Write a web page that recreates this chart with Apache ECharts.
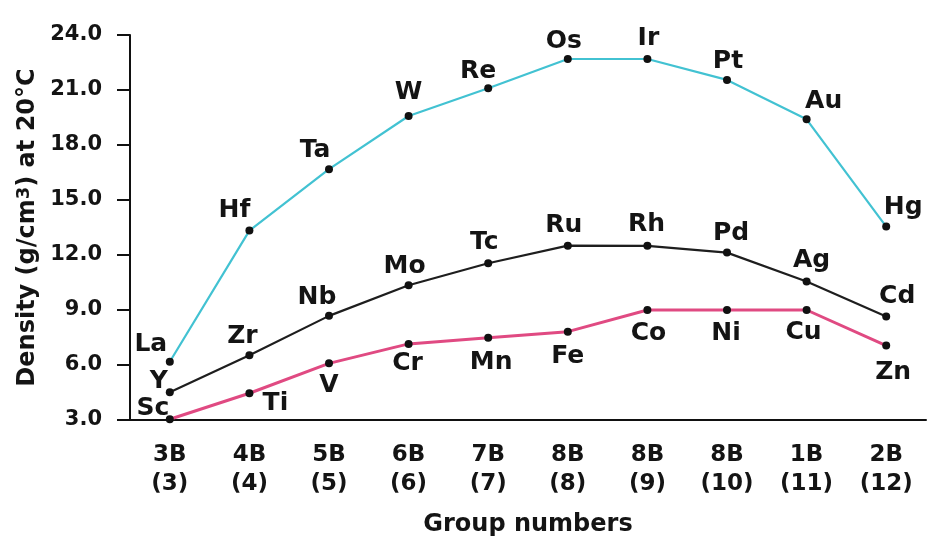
<!DOCTYPE html>
<html>
<head>
<meta charset="utf-8">
<title>Density of transition metals</title>
<script src="https://cdn.jsdelivr.net/npm/echarts@6/dist/echarts.min.js"></script>
<style>
  html, body { margin: 0; padding: 0; background: #ffffff; }
  #chart { width: 928px; height: 542px; }
</style>
</head>
<body>
<div id="chart"></div>
<script>
// Group labels along the x axis
const groupLabels = ['3B\n(3)', '4B\n(4)', '5B\n(5)', '6B\n(6)', '7B\n(7)',
                     '8B\n(8)', '8B\n(9)', '8B\n(10)', '1B\n(11)', '2B\n(12)'];

// Period 6 (5d) metals
const period6 = ['La', 'Hf', 'Ta', 'W', 'Re', 'Os', 'Ir', 'Pt', 'Au', 'Hg'];
const period6Density = [6.18, 13.33, 16.68, 19.58, 21.10, 22.69, 22.69, 21.55, 19.40, 13.55];

// Period 5 (4d) metals
const period5 = ['Y', 'Zr', 'Nb', 'Mo', 'Tc', 'Ru', 'Rh', 'Pd', 'Ag', 'Cd'];
const period5Density = [4.51, 6.53, 8.68, 10.35, 11.55, 12.51, 12.50, 12.13, 10.55, 8.64];

// Period 4 (3d) metals
const period4 = ['Sc', 'Ti', 'V', 'Cr', 'Mn', 'Fe', 'Co', 'Ni', 'Cu', 'Zn'];
const period4Density = [3.04, 4.46, 6.09, 7.15, 7.49, 7.82, 9.00, 9.00, 9.00, 7.06];

// Where each element symbol sits relative to its point (px)
const labelNudge = {
  La: [-19, -17], Hf: [-15, -20], Ta: [-14, -19], W: [0, -24], Re: [-10, -17],
  Os: [-4, -18], Ir: [1, -21], Pt: [1, -18], Au: [17, -18], Hg: [17, -19],
  Y: [-11, -11], Zr: [-7, -19], Nb: [-12, -18], Mo: [-4, -19], Tc: [-4, -21],
  Ru: [-4, -20], Rh: [-1, -21], Pd: [4, -19], Ag: [5, -21], Cd: [11, -20],
  Sc: [-17, -11], Ti: [26, 10], V: [0, 22], Cr: [-1, 20], Mn: [3, 25],
  Fe: [0, 25], Co: [1, 23], Ni: [-1, 23], Cu: [-3, 22], Zn: [7, 27]
};

const FONT = '"DejaVu Sans", "Liberation Sans", sans-serif';
const INK = '#141414';

function buildSeries(name, symbols, values, color, width) {
  return {
    name: name,
    type: 'line',
    clip: false,
    symbol: 'circle',
    symbolSize: 8,
    itemStyle: { color: '#111111' },
    lineStyle: { color: color, width: width },
    data: values.map(function (v, i) {
      return {
        value: v,
        label: {
          show: true,
          formatter: symbols[i],
          position: 'inside',
          align: 'center',
          verticalAlign: 'middle',
          offset: labelNudge[symbols[i]],
          color: INK,
          fontFamily: FONT,
          fontWeight: 'bold',
          fontSize: 25
        }
      };
    })
  };
}

const chart = echarts.init(document.getElementById('chart'), null, { renderer: 'canvas' });

chart.setOption({
  animation: false,
  backgroundColor: '#ffffff',
  grid: { left: 130, right: 2, top: 35, bottom: 122 },
  xAxis: {
    type: 'category',
    data: groupLabels,
    boundaryGap: true,
    name: 'Group numbers',
    nameLocation: 'middle',
    nameGap: 93,
    nameTextStyle: { color: INK, fontFamily: FONT, fontWeight: 'bold', fontSize: 24 },
    axisLine: { lineStyle: { color: '#111', width: 2 } },
    axisTick: { alignWithLabel: true, length: 13, lineStyle: { color: '#111', width: 2 } },
    axisLabel: {
      interval: 0,
      margin: 21,
      color: INK,
      fontFamily: FONT,
      fontWeight: 'bold',
      fontSize: 23,
      lineHeight: 29
    },
    splitLine: { show: false }
  },
  yAxis: {
    type: 'value',
    min: 3,
    max: 24,
    interval: 3,
    name: 'Density (g/cm{sup|3}) at 20°C',
    nameLocation: 'middle',
    nameGap: 89,
    nameRotate: 90,
    nameTextStyle: {
      color: INK, fontFamily: FONT, fontWeight: 'bold', fontSize: 24,
      rich: {
        sup: { fontFamily: FONT, fontWeight: 'bold', fontSize: 18, verticalAlign: 'top', color: INK }
      }
    },
    axisLine: { show: true, lineStyle: { color: '#111', width: 2 } },
    axisTick: { show: true, length: 13, lineStyle: { color: '#111', width: 2 } },
    axisLabel: {
      margin: 28,
      color: INK,
      fontFamily: FONT,
      fontWeight: 'bold',
      fontSize: 21,
      formatter: function (v) { return v.toFixed(1); }
    },
    splitLine: { show: false }
  },
  series: [
    buildSeries('Period 4', period4, period4Density, '#e04a82', 3),
    buildSeries('Period 5', period5, period5Density, '#1e1e1e', 2.2),
    buildSeries('Period 6', period6, period6Density, '#42c2d2', 2.2)
  ]
});
</script>
</body>
</html>
